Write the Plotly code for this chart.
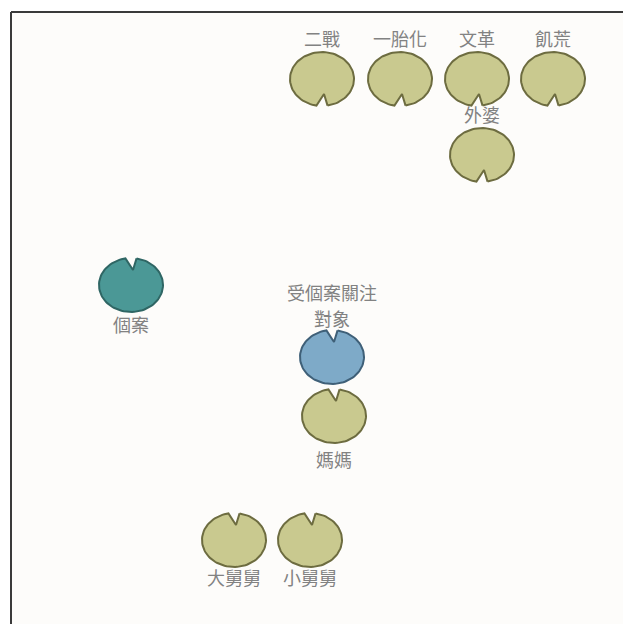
import numpy as np
import plotly.graph_objects as go

# ---- data ----
node_names = ["二戰", "一胎化", "文革", "飢荒", "外婆", "個案", "受個案關注對象", "媽媽", "大舅舅", "小舅舅"]
node_x = [322, 400, 477, 553, 482, 131, 332, 334, 234, 310]
node_y = [79, 79, 79, 79, 155, 285, 357, 416, 540, 540]
notch_side = ["bottom", "bottom", "bottom", "bottom", "bottom", "top", "top", "top", "top", "top"]
node_kind = ["event", "event", "event", "event", "family", "case", "focus", "family", "family", "family"]

label_text = ["二戰", "一胎化", "文革", "飢荒", "外婆", "個案", "受個案關注", "對象", "媽媽", "大舅舅", "小舅舅"]
label_x = [322, 400, 477, 553, 482, 131, 332, 332, 334, 234, 310]
label_y = [41, 41, 41, 41, 117, 327, 295, 321, 462, 580, 580]

fills = {"event": "#c9c98f", "family": "#c9c98f", "case": "#4b9896", "focus": "#7eaac8"}
lines = {"event": "#6d6c40", "family": "#6d6c40", "case": "#2f6664", "focus": "#3f6078"}

RX, RY, DEPTH, HALF = 32, 27, 12, 10
OFF = 8  # page body margin

fig = go.Figure()

for name, cx, cy, side, kind in zip(node_names, node_x, node_y, notch_side, node_kind):
    d = 1 if side == "bottom" else -1
    phi = np.radians(np.linspace(HALF, 360 - HALF, 90))
    xs = cx + RX * np.sin(phi)
    ys = cy + d * RY * np.cos(phi)
    xs = np.append(xs, [cx + 2, xs[0]])
    ys = np.append(ys, [cy + d * (RY - DEPTH), ys[0]])
    fig.add_trace(go.Scatter(
        x=xs, y=ys, mode="lines", fill="toself",
        fillcolor=fills[kind], line=dict(color=lines[kind], width=2),
        hoverinfo="skip", showlegend=False))

fig.add_trace(go.Scatter(
    x=label_x, y=label_y, mode="text", text=label_text,
    textposition="middle center",
    textfont=dict(family="Noto Sans CJK TC", size=18, color="#828282"),
    hoverinfo="skip", showlegend=False))

# frame (top & left edges visible)
fig.add_shape(type="rect", x0=11, x1=700, y0=12, y1=700,
              fillcolor="#fdfcfa", line=dict(width=0), layer="below",
              xref="x", yref="y")
fig.add_shape(type="line", x0=11, x1=700, y0=12, y1=12,
              line=dict(color="#3a3a3a", width=2), xref="x", yref="y")
fig.add_shape(type="line", x0=11, x1=11, y0=12, y1=700,
              line=dict(color="#3a3a3a", width=2), xref="x", yref="y")

fig.update_layout(
    width=631, height=624,
    margin=dict(l=0, r=0, t=0, b=0),
    paper_bgcolor="white", plot_bgcolor="white",
    xaxis=dict(range=[OFF, 631 + OFF], visible=False, fixedrange=True),
    yaxis=dict(range=[624 + OFF, OFF], visible=False, fixedrange=True),
)

fig.write_html("out.html")
